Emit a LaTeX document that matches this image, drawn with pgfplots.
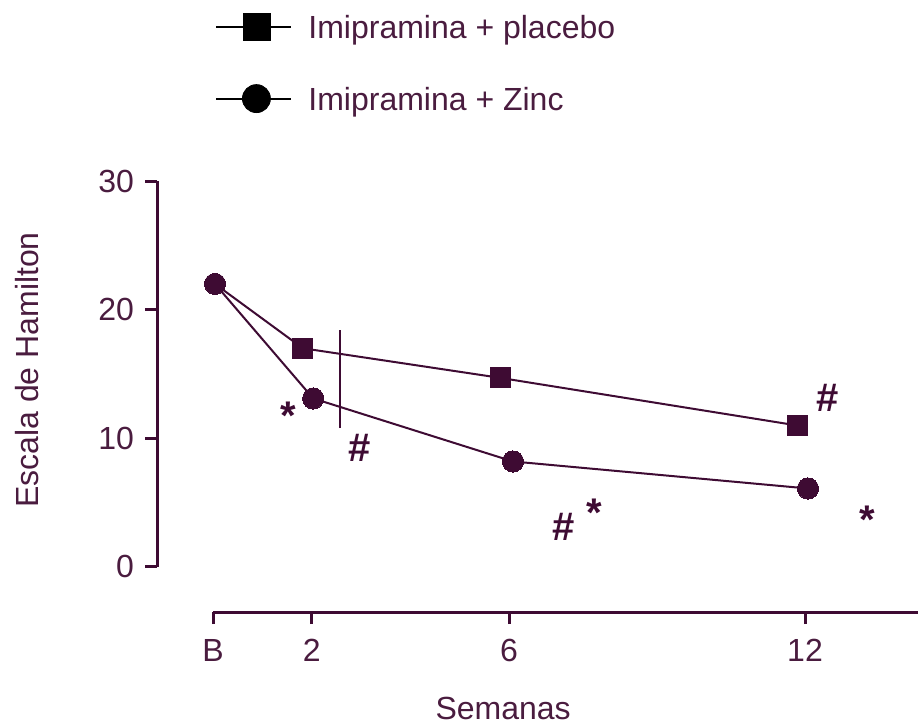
\documentclass[border=0pt]{standalone}
\usepackage{fontspec}
\setmainfont{Liberation Sans}
\usepackage{pgfplots}
\pgfplotsset{compat=1.18}
\definecolor{plum}{HTML}{3E0B33}
\definecolor{txt}{HTML}{4A1C3F}
\newcommand{\fs}{\fontsize{16}{19.2}\selectfont}
\newcommand{\fa}{\fontsize{20}{23}\selectfont\bfseries}
\begin{document}
\fs
\begin{tikzpicture}
\begin{axis}[
  scale only axis, width=380.5pt, height=215.5pt,
  xmin=-1.135, xmax=14.29, ymin=-3.5, ymax=30,
  axis lines*=left, axis line style={draw=none},
  clip=false,
  xtick={0,2,6,12}, xticklabels={B,2,6,12},
  ytick={0,10,20,30},
  tick align=outside, major tick length=6pt,
  tick style={draw=plum, line width=1.5pt},
  tick label style={font=\fs, text=txt},
  /pgf/number format/assume math mode=true,
  x tick label style={yshift=-2pt},
  legend style={at={(0.0762,1.3898)}, anchor=north west, draw=none, fill=none,
    inner sep=0pt, row sep=21.5pt, column sep=8pt,
    nodes={inner sep=0pt, text height=11.5pt, text depth=0pt, text=txt, font=\fs}},
  legend cell align=left,
]
\addlegendimage{legend image code/.code={\draw[black, line width=1pt] (0pt,0pt) -- (37.5pt,0pt); \fill[black] (20pt,0pt) +(-6.75pt,-6.75pt) rectangle +(6.75pt,6.75pt);}}
\addlegendentry{Imipramina + placebo}
\addlegendimage{legend image code/.code={\draw[black, line width=1pt] (0pt,0pt) -- (37.5pt,0pt); \fill[black] (20pt,0pt) circle (7pt);}}
\addlegendentry{Imipramina + Zinc}

% axis lines
\draw[plum, line width=1.5pt] (axis cs:-1.135,0) -- (axis cs:-1.135,30);
\draw[plum, line width=1.5pt] (axis cs:0,-3.5) -- (axis cs:14.29,-3.5);

% placebo
\addplot[plum, line width=1pt, mark=square*, mark size=5pt, mark indices={2,3,4}, mark options={fill=plum, draw=plum, line width=0pt}, forget plot]
  coordinates {(0.04,22.0) (1.82,17.0) (5.82,14.7) (11.84,11.0)};
% zinc
\addplot[plum, line width=1pt, mark=*, mark size=5.3pt, mark options={fill=plum, draw=plum, line width=0pt}, forget plot]
  coordinates {(0.04,22.0) (2.03,13.1) (6.08,8.2) (12.06,6.1)};
% vertical marker line
\addplot[plum, line width=0.75pt, forget plot] coordinates {(2.57,10.8) (2.57,18.42)};

% annotations
\node[text=plum, font=\fa, inner sep=0pt] at (axis cs:1.52,11.75) {*};
\node[text=plum, font=\fa, inner sep=0pt] at (axis cs:2.98,9.25) {\#};
\node[text=plum, font=\fa, inner sep=0pt] at (axis cs:7.10,3.11) {\#};
\node[text=plum, font=\fa, inner sep=0pt] at (axis cs:7.72,4.2) {*};
\node[text=plum, font=\fa, inner sep=0pt] at (axis cs:12.46,13.13) {\#};
\node[text=plum, font=\fa, inner sep=0pt] at (axis cs:13.27,3.7) {*};

% labels
\node[text=txt, font=\fs, rotate=90, inner sep=0pt] at (axis cs:-3.77,15.31) {Escala de Hamilton};
\node[text=txt, font=\fs, inner sep=0pt] at (axis cs:5.88,-11.0) {Semanas};

\coordinate (bbl) at (axis cs:-4.318,-12.357);
\coordinate (btr) at (axis cs:14.29,44.07);
\end{axis}
\pgfresetboundingbox
\path[use as bounding box] (bbl) rectangle (btr);
\end{tikzpicture}
\end{document}
